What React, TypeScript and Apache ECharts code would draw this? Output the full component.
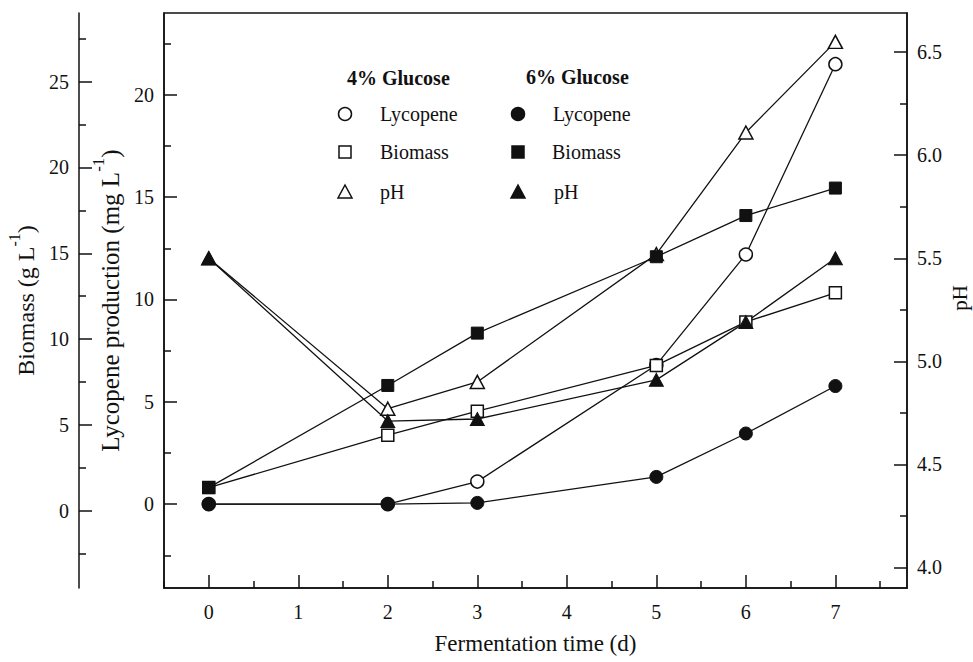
import React, { useEffect, useRef } from "react";
import * as echarts from "echarts";

const days = [0, 2, 3, 5, 6, 7];
const lycopene4 = [0, 0, 1.1, 6.8, 12.2, 21.5];
const lycopene6 = [0, 0, 0.06, 1.33, 3.45, 5.77];
const biomass4 = [1.35, 4.4, 5.8, 8.47, 11.0, 12.7];
const biomass6 = [1.35, 7.3, 10.35, 14.8, 17.2, 18.8];
const ph4 = [5.5, 4.77, 4.9, 5.52, 6.11, 6.55];
const ph6 = [5.5, 4.71, 4.72, 4.91, 5.19, 5.5];

const xMajor = [0, 1, 2, 3, 4, 5, 6, 7];
const xMinor = [-0.5, 0.5, 1.5, 2.5, 3.5, 4.5, 5.5, 6.5, 7.5];
const lycMajor = [0, 5, 10, 15, 20];
const lycMinor = [-2.5, 2.5, 7.5, 12.5, 17.5, 22.5];
const bioMajor = [0, 5, 10, 15, 20, 25];
const bioMinor = [-2.5, 2.5, 7.5, 12.5, 17.5, 22.5, 27.5];
const phMajor = [4.0, 4.5, 5.0, 5.5, 6.0, 6.5];
const phMinor = [4.25, 4.75, 5.25, 5.75, 6.25];

const FONT = '"Liberation Serif", "Times New Roman", serif';
const INK = "#111";

const pairs = (ys: number[]) => days.map((d, i) => [d, ys[i]]);

export default function App() {
  const ref = useRef<HTMLDivElement>(null);
  useEffect(() => {
    if (!ref.current) return;
    const chart = echarts.init(ref.current, undefined, { renderer: "svg" });

    const lineStyle = { color: INK, width: 1.5 };
    const labelStyle = { color: INK, fontFamily: FONT, fontSize: 20 };
    const nameStyle = (size: number) => ({
      color: INK,
      fontFamily: FONT,
      fontSize: size,
      rich: {
        n: { fontFamily: FONT, fontSize: size, color: INK, lineHeight: size + 8, verticalAlign: "bottom" },
        sup: { fontFamily: FONT, fontSize: Math.round(size * 0.68), color: INK, lineHeight: size + 8, verticalAlign: "top" },
      },
    });

    const yMain = (opt: any) => ({
      type: "value",
      splitLine: { show: false },
      axisLine: { show: true, onZero: false, lineStyle },
      ...opt,
    });
    const yMinorAxis = (opt: any) => ({
      type: "value",
      splitLine: { show: false },
      axisLine: { show: false, onZero: false },
      axisLabel: { show: false },
      ...opt,
    });

    const openItem = { color: "#fff", borderColor: INK, borderWidth: 1.5 };
    const fillItem = { color: INK, borderColor: INK, borderWidth: 1 };
    const mkSeries = (data: number[], yIdx: number, symbol: string, size: any, item: any) => ({
      type: "line",
      xAxisIndex: 0,
      yAxisIndex: yIdx,
      data: pairs(data),
      symbol,
      symbolSize: size,
      showSymbol: true,
      lineStyle: { color: INK, width: 1.3 },
      itemStyle: item,
      emphasis: { disabled: true },
    });

    const lx1 = 345, lx2 = 518, tx1 = 380, tx2 = 553;
    const rows = [114, 152, 192];
    const legendText = (x: number, y: number, t: string, bold = false) => ({
      type: "text",
      x,
      y,
      style: {
        text: t,
        fill: INK,
        font: `${bold ? "bold " : ""}20px ${FONT}`,
        align: "left",
        verticalAlign: "middle",
      },
    });
    const circle = (cx: number, cy: number, filled: boolean) => ({
      type: "circle",
      shape: { cx, cy, r: 6.5 },
      style: { fill: filled ? INK : "#fff", stroke: INK, lineWidth: 1.5 },
    });
    const square = (cx: number, cy: number, filled: boolean) => ({
      type: "rect",
      shape: { x: cx - 6, y: cy - 6, width: 12, height: 12 },
      style: { fill: filled ? INK : "#fff", stroke: INK, lineWidth: 1.5 },
    });
    const tri = (cx: number, cy: number, filled: boolean) => ({
      type: "polygon",
      shape: { points: [[cx, cy - 7], [cx - 7, cy + 6], [cx + 7, cy + 6]] },
      style: { fill: filled ? INK : "#fff", stroke: INK, lineWidth: 1.5 },
    });

    chart.setOption({
      animation: false,
      backgroundColor: "#fff",
      grid: {
        left: 164,
        right: 66,
        top: 13,
        bottom: 74,
        show: true,
        borderColor: INK,
        borderWidth: 1.5,
        backgroundColor: "transparent",
        containLabel: false,
        outerBoundsMode: "none",
      },
      xAxis: [
        {
          type: "value",
          min: -0.5,
          max: 7.8,
          position: "bottom",
          splitLine: { show: false },
          axisLine: { show: true, onZero: false, lineStyle },
          axisTick: { show: true, inside: true, length: 13, lineStyle, customValues: xMajor },
          axisLabel: { ...labelStyle, margin: 14, customValues: xMajor, formatter: (v: number) => String(v) },
          name: "Fermentation time (d)",
          nameLocation: "middle",
          nameGap: 44,
          nameTextStyle: { color: INK, fontFamily: FONT, fontSize: 23 },
        },
        {
          type: "value",
          min: -0.5,
          max: 7.8,
          position: "bottom",
          splitLine: { show: false },
          axisLine: { show: false, onZero: false },
          axisTick: { show: true, inside: true, length: 7, lineStyle, customValues: xMinor },
          axisLabel: { show: false },
        },
      ],
      yAxis: [
        yMain({
          min: -4.1,
          max: 24,
          position: "left",
          offset: 0,
          axisTick: { show: true, inside: true, length: 13, lineStyle, customValues: lycMajor },
          axisLabel: { ...labelStyle, margin: 10, customValues: lycMajor },
          name: "{n|Lycopene production (mg L}{sup|-1}{n|)}",
          nameLocation: "middle",
          nameGap: 30,
          nameTextStyle: nameStyle(25),
        }),
        yMain({
          min: -4.5,
          max: 29,
          position: "left",
          offset: 85,
          axisTick: { show: true, inside: true, length: 13, lineStyle, customValues: bioMajor },
          axisLabel: { ...labelStyle, margin: 10, customValues: bioMajor },
          name: "{n|Biomass (g L}{sup|-1}{n|)}",
          nameLocation: "middle",
          nameGap: 38,
          nameTextStyle: nameStyle(24),
        }),
        yMain({
          min: 3.9,
          max: 6.69,
          position: "right",
          offset: 0,
          axisTick: { show: true, inside: true, length: 13, lineStyle, customValues: phMajor },
          axisLabel: { ...labelStyle, margin: 10, customValues: phMajor, formatter: (v: number) => v.toFixed(1) },
        }),
        yMinorAxis({
          min: -4.1,
          max: 24,
          position: "left",
          offset: 0,
          axisTick: { show: true, inside: true, length: 7, lineStyle, customValues: lycMinor },
        }),
        yMinorAxis({
          min: -4.5,
          max: 29,
          position: "left",
          offset: 85,
          axisTick: { show: true, inside: true, length: 7, lineStyle, customValues: bioMinor },
        }),
        yMinorAxis({
          min: 3.9,
          max: 6.69,
          position: "right",
          offset: 0,
          axisTick: { show: true, inside: true, length: 7, lineStyle, customValues: phMinor },
        }),
      ],
      series: [
        mkSeries(lycopene4, 0, "circle", 13, openItem),
        mkSeries(ph4, 2, "triangle", [14, 13], openItem),
        mkSeries(biomass4, 1, "rect", 12, openItem),
        mkSeries(lycopene6, 0, "circle", 13, fillItem),
        mkSeries(biomass6, 1, "rect", 12, fillItem),
        mkSeries(ph6, 2, "triangle", [14, 13], fillItem),
      ],
      graphic: [
        {
          type: "text",
          x: 960,
          y: 298,
          rotation: Math.PI / 2,
          style: {
            text: "pH",
            fill: INK,
            font: `21px ${FONT}`,
            align: "center",
            verticalAlign: "middle",
          },
        },
        legendText(347, 78, "4% Glucose", true),
        legendText(526, 77, "6% Glucose", true),
        circle(lx1, rows[0], false),
        square(lx1, rows[1], false),
        tri(lx1, rows[2], false),
        circle(lx2, rows[0], true),
        square(lx2, rows[1], true),
        tri(lx2, rows[2], true),
        legendText(tx1, rows[0], "Lycopene"),
        legendText(tx1, rows[1], "Biomass"),
        legendText(tx1, rows[2], "pH"),
        legendText(tx2, rows[0], "Lycopene"),
        legendText(tx2 - 1, rows[1], "Biomass"),
        legendText(tx2 + 1, rows[2], "pH"),
      ],
    });
    return () => chart.dispose();
  }, []);
  return (
    <div
      ref={ref}
      style={{ position: "absolute", left: 0, top: 0, width: 973, height: 662, background: "#fff" }}
    />
  );
}
